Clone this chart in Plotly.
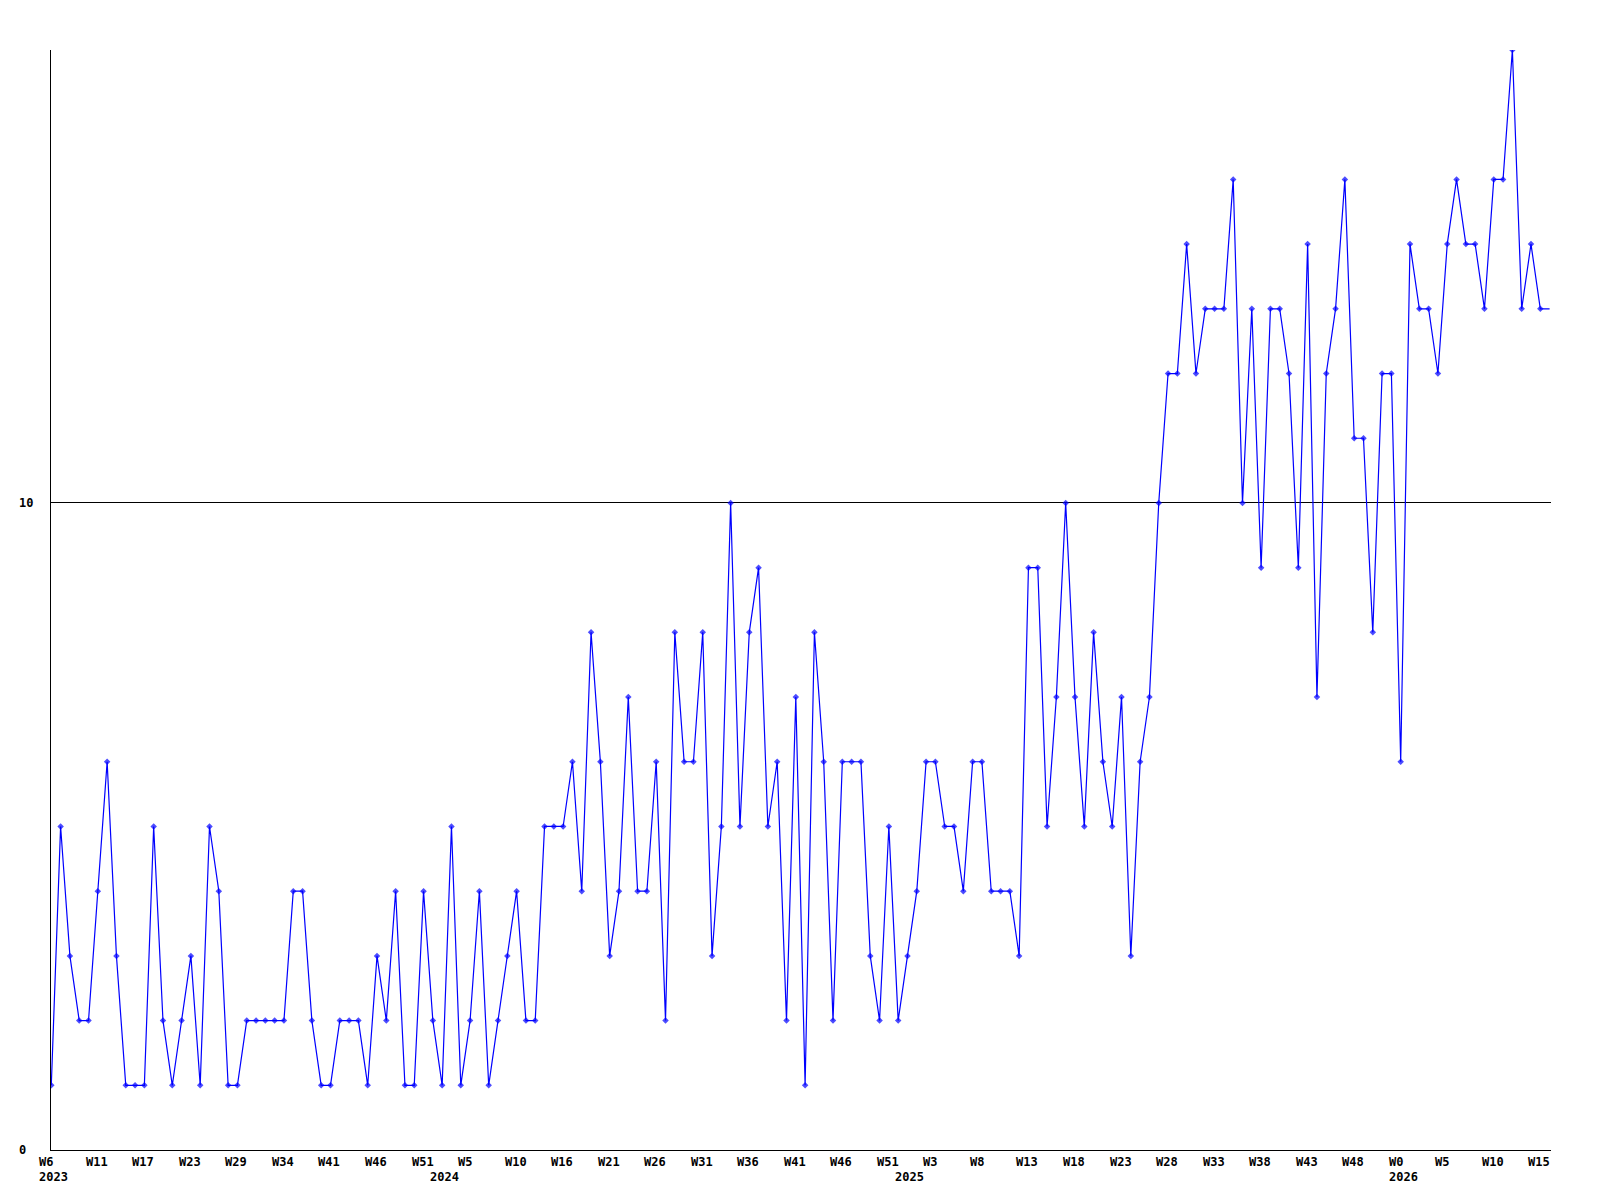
import plotly.graph_objects as go

# Weekly values (index 0 = 2023 W6); the final value only extends the line to the edge
values = [
    1, 5, 3, 2, 2, 4, 6, 3, 1, 1,
    1, 5, 2, 1, 2, 3, 1, 5, 4, 1,
    1, 2, 2, 2, 2, 2, 4, 4, 2, 1,
    1, 2, 2, 2, 1, 3, 2, 4, 1, 1,
    4, 2, 1, 5, 1, 2, 4, 1, 2, 3,
    4, 2, 2, 5, 5, 5, 6, 4, 8, 6,
    3, 4, 7, 4, 4, 6, 2, 8, 6, 6,
    8, 3, 5, 10, 5, 8, 9, 5, 6, 2,
    7, 1, 8, 6, 2, 6, 6, 6, 3, 2,
    5, 2, 3, 4, 6, 6, 5, 5, 4, 6,
    6, 4, 4, 4, 3, 9, 9, 5, 7, 10,
    7, 5, 8, 6, 5, 7, 3, 6, 7, 10,
    12, 12, 14, 12, 13, 13, 13, 15, 10, 13,
    9, 13, 13, 12, 9, 14, 7, 12, 13, 15,
    11, 11, 8, 12, 12, 6, 14, 13, 13, 12,
    14, 15, 14, 14, 13, 15, 15, 17, 13, 14,
    13, 13,
]
x_index = list(range(len(values)))

week_labels = [
    "W6", "W11", "W17", "W23", "W29", "W34", "W41", "W46", "W51",
    "W5", "W10", "W16", "W21", "W26", "W31", "W36", "W41", "W46", "W51",
    "W3", "W8", "W13", "W18", "W23", "W28", "W33", "W38", "W43", "W48",
    "W0", "W5", "W10", "W15",
]
week_label_pos = list(range(0, 5 * len(week_labels), 5))

year_labels = ["2023", "2024", "2025", "2026"]
year_label_pos = [0, 42, 92, 145]

y_tick_vals = [0, 10]
y_tick_text = ["0", "10"]

FONT = dict(family="DejaVu Sans Mono", size=12, color="black", weight="bold")

marker_sizes = [5] * (len(values) - 1) + [0]

fig = go.Figure()
fig.add_trace(go.Scatter(
    x=x_index, y=values, mode="lines+markers",
    line=dict(color="#0000ff", width=1.2),
    marker=dict(symbol="diamond", size=marker_sizes, color="#0000ff", line=dict(width=0)),
    showlegend=False, hoverinfo="skip",
))

annotations = []
for lab, pos in zip(week_labels, week_label_pos):
    annotations.append(dict(x=pos, y=0, xref="x", yref="paper", text=lab, showarrow=False,
                            xanchor="left", yanchor="middle", xshift=-14, yshift=-12, font=FONT))
for lab, pos in zip(year_labels, year_label_pos):
    annotations.append(dict(x=pos, y=0, xref="x", yref="paper", text=lab, showarrow=False,
                            xanchor="left", yanchor="middle", xshift=-14, yshift=-27, font=FONT))
for lab, val in zip(y_tick_text, y_tick_vals):
    annotations.append(dict(x=0, y=val, xref="paper", yref="y", text=lab, showarrow=False,
                            xanchor="left", yanchor="middle", xshift=-34, font=FONT))

# page body adds an 8px margin, so the figure is 8px smaller and its margins adjusted
fig.update_layout(
    width=1592, height=1192,
    margin=dict(l=43, r=49, t=42, b=50),
    paper_bgcolor="white", plot_bgcolor="white",
    annotations=annotations,
    xaxis=dict(range=[-0.032, 161.15], showgrid=False, zeroline=False, showticklabels=False,
               ticks="", showline=True, linecolor="black", linewidth=1),
    yaxis=dict(range=[0, 17], tickvals=y_tick_vals, showticklabels=False, showgrid=True,
               gridcolor="black", gridwidth=1, zeroline=False, ticks="",
               showline=True, linecolor="black", linewidth=1),
)

fig.write_html("out.html")
